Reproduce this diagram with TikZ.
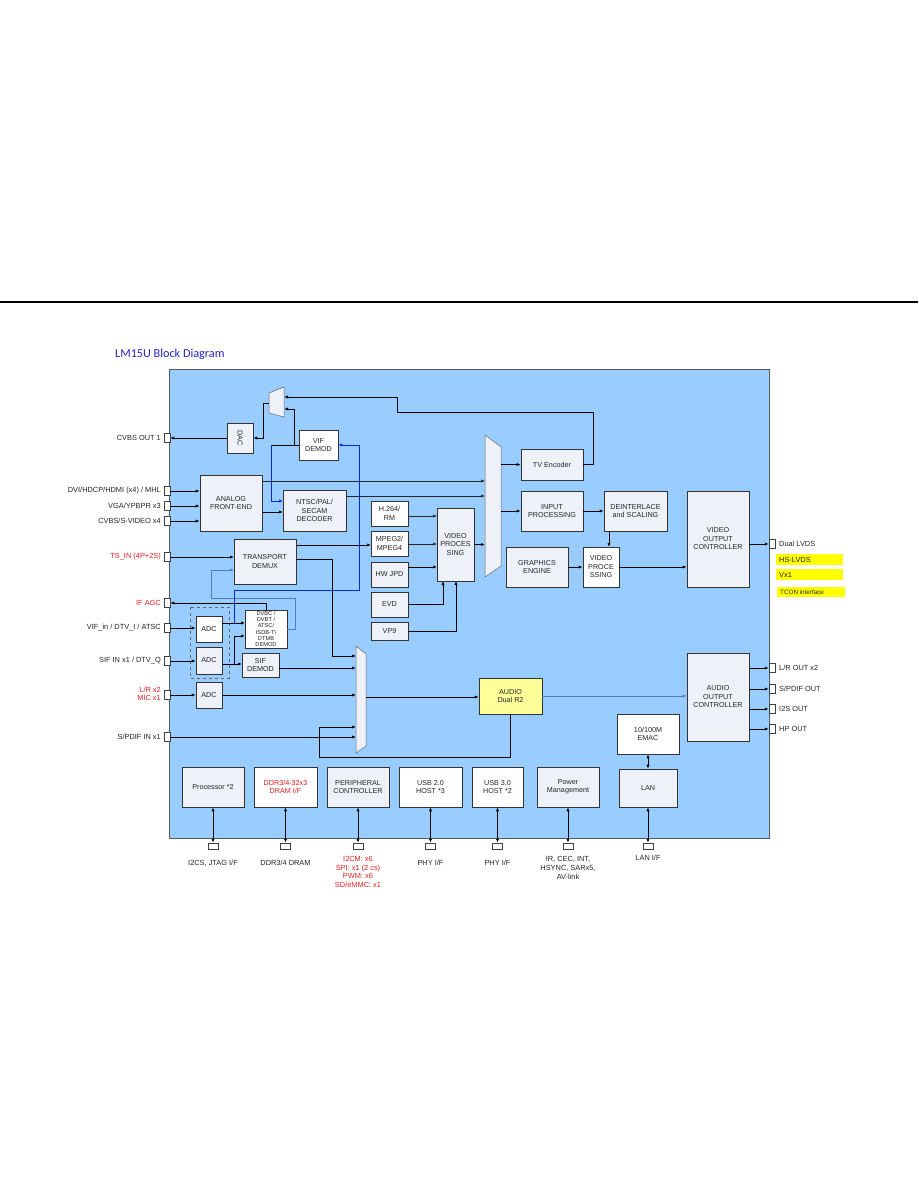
\documentclass[tikz,border=0pt]{standalone}
\usepackage{fontspec}
\setmainfont{Liberation Sans}
\newfontfamily\titlefont{Carlito}
\usetikzlibrary{arrows.meta}
\definecolor{bgblue}{HTML}{99CCFF}
\definecolor{boxfill}{HTML}{EEF1F8}
\definecolor{dblue}{HTML}{0A2AD0}
\definecolor{lblue}{HTML}{4A7CC8}
\definecolor{lblred}{HTML}{E02020}
\definecolor{hiyel}{HTML}{FFFF00}
\definecolor{audioyel}{HTML}{FFFF99}
\definecolor{titleblue}{HTML}{2424C0}
\newcommand\bx[7]{\node[#7, minimum width=#4pt, minimum height=#5pt] (#1) at (#2,#3) {#6};}
\newcommand\lport[2]{\node[port] (#1) at (167,#2) {};}
\newcommand\rport[2]{\node[port] (#1) at (772,#2) {};}
\newcommand\bport[2]{\node[bportst] (#1) at (#2,846) {};}
\begin{document}
\begin{tikzpicture}[x=1pt,y=-1pt,
  box/.style={draw=black!80, fill=boxfill, line width=0.6pt, font=\fontsize{7.2}{8.5}\selectfont, align=center, inner sep=1pt, text=black!85},
  wbox/.style={box, fill=white},
  lab/.style={font=\fontsize{7.4}{8.5}\selectfont, inner sep=0pt, text=black!85},
  rlab/.style={lab, text=lblred},
  port/.style={draw=black!75, fill=white, line width=0.5pt, minimum width=6pt, minimum height=9pt, inner sep=0pt},
  bportst/.style={draw=black!75, fill=white, line width=0.5pt, minimum width=10pt, minimum height=6pt, inner sep=0pt},
  ln/.style={line width=0.8pt, black},
  thin/.style={line width=0.6pt, black!85},
  arr/.style={ln, -{Latex[length=4pt,width=3.2pt]}},
  tarr/.style={thin, -{Latex[length=4pt,width=3.2pt]}},
  darr/.style={ln, {Latex[length=4pt,width=3.2pt]}-{Latex[length=4pt,width=3.2pt]}},
  mux/.style={draw=black!60, fill=boxfill, line width=0.5pt},
  hl/.style={fill=hiyel, inner sep=0pt, anchor=north west}
]
\useasboundingbox (0,0) rectangle (918,1188);
\fill[white] (0,0) rectangle (918,1188);
% top rule
\draw[line width=1.3pt] (0,302) -- (918,302);
% title
\node[anchor=base west, font=\titlefont\fontsize{12.2}{14}\selectfont, text=titleblue, inner sep=0pt] (title) at (115,357) {LM15U Block Diagram};
% main area
\node[draw=black!65, fill=bgblue, line width=0.6pt, minimum width=600pt, minimum height=469pt, inner sep=0pt, anchor=north west] (chip) at (169,369) {};

% highlight labels (right)
\node[hl, minimum width=67pt, minimum height=11pt] (hs) at (776,554) {};
\node[lab, anchor=west] at (779,559.5) {HS-LVDS};
\node[hl, minimum width=67pt, minimum height=11pt] (vx) at (776,569) {};
\node[lab, anchor=west] at (779,574.5) {Vx1};
\node[hl, minimum width=68pt, minimum height=10pt] (tcon) at (777,587) {};
\node[lab, anchor=west, font=\fontsize{6.3}{7}\selectfont] at (780,592) {TCON interface};

% muxes
\draw[mux] (269,393) -- (284,387) -- (284,417) -- (269,413) -- cycle;
\coordinate (mxa) at (276,402);
\draw[mux] (485,435) -- (501,447) -- (501,566) -- (485,577) -- cycle;
\coordinate (mxb) at (493,506);
\draw[mux] (356,646) -- (366,654) -- (366,746) -- (356,753) -- cycle;
\coordinate (mxc) at (361,700);

% dashed ADC group
\draw[dashed, draw=black!60, line width=0.5pt] (190,607) rectangle (229,678);

% boxes
\bx{dac}{240}{438}{26}{30}{}{box}
\node[font=\fontsize{7.2}{8}\selectfont, rotate=-90, text=black!85] at (dac.center) {DAC};
\bx{vif}{318.5}{445}{39}{30}{VIF\\DEMOD}{wbox}
\bx{afe}{231}{503}{62}{56}{ANALOG\\FRONT-END}{box}
\bx{ntsc}{314.5}{510.5}{63}{41}{NTSC/PAL/\\SECAM\\DECODER}{box}
\bx{tvenc}{552}{464.5}{62}{31}{TV Encoder}{box}
\bx{inproc}{552}{511}{62}{40}{INPUT\\PROCESSING}{box}
\bx{h264}{389.5}{513.5}{37}{25}{H.264/\\RM}{wbox}
\bx{mpeg}{389.5}{543.5}{37}{25}{MPEG2/\\MPEG4}{wbox}
\bx{hwjpd}{389.5}{574.5}{37}{25}{HW JPD}{box}
\bx{evd}{389.5}{604.5}{37}{25}{EVD}{box}
\bx{vp9}{389.5}{631}{37}{18}{VP9}{box}
\bx{vpa}{455.5}{544.5}{37}{73}{VIDEO\\PROCES\\SING}{box}
\bx{deint}{635.5}{511}{63}{40}{DEINTERLACE\\and SCALING}{box}
\bx{vpb}{601}{567}{36}{40}{VIDEO\\PROCE\\SSING}{wbox}
\bx{gfx}{537}{567}{62}{40}{GRAPHICS\\ENGINE}{box}
\bx{voc}{718}{539}{62}{96}{VIDEO\\OUTPUT\\CONTROLLER}{box}
\bx{td}{265}{561.5}{62}{45}{TRANSPORT\\DEMUX}{box}
\bx{adca}{209}{629}{26}{26}{ADC}{wbox}
\bx{adcb}{209}{660.5}{26}{27}{ADC}{box}
\bx{adcc}{209}{695}{26}{26}{ADC}{box}
\bx{dvb}{266}{629}{42}{38}{}{wbox}
\node[font=\fontsize{5.7}{6.3}\selectfont, align=center, text=black!85] at (dvb.center) {DVBC /\\DVBT /\\ATSC/\\ISDB-T\textbackslash\\DTMB\\DEMOD};
\bx{sif}{260.5}{665}{37}{24}{SIF\\DEMOD}{box}
\bx{audio}{510.5}{696}{63}{36}{AUDIO\\Dual R2}{box, fill=audioyel}
\bx{aoc}{718}{697}{62}{88}{AUDIO\\OUTPUT\\CONTROLLER}{box}
\bx{emac}{648}{734}{62}{40}{10/100M\\EMAC}{wbox}
\bx{lan}{648}{788}{58}{38}{LAN}{box}
\bx{proc}{213}{787}{62}{40}{Processor *2}{box}
\bx{ddr}{285.5}{787}{63}{40}{DDR3/4-32x3\\DRAM I/F}{wbox, text=lblred}
\bx{periph}{358}{787}{62}{40}{PERIPHERAL\\CONTROLLER}{box}
\bx{usba}{430.5}{787}{63}{40}{USB 2.0\\HOST *3}{wbox}
\bx{usbb}{497.5}{787}{51}{40}{USB 3.0\\HOST *2}{wbox}
\bx{power}{568}{787}{62}{40}{Power\\Management}{box}

% left ports and labels
\lport{pcvbsout}{438}
\lport{pdvi}{491}
\lport{pvga}{506}
\lport{pcvbs}{521}
\lport{pts}{557}
\lport{pagc}{603}
\lport{pvif}{628}
\lport{psif}{661}
\lport{plr}{695}
\lport{pspdif}{737}
\node[lab, anchor=east] at (161,438) {CVBS OUT 1};
\node[lab, anchor=east] at (161,491) {DVI/HDCP/HDMI (x4) / MHL};
\node[lab, anchor=east] at (161,506) {VGA/YPBPR x3};
\node[lab, anchor=east] at (161,521) {CVBS/S-VIDEO x4};
\node[rlab, anchor=east] at (161,557) {TS\_IN (4P+2S)};
\node[rlab, anchor=east] at (161,603) {IF AGC};
\node[lab, anchor=east] at (161,628) {VIF\_in / DTV\_I / ATSC};
\node[lab, anchor=east] at (161,661) {SIF IN x1 / DTV\_Q};
\node[rlab, anchor=east, align=right] at (161,694) {L/R x2\\MIC x1};
\node[lab, anchor=east] at (161,737) {S/PDIF IN x1};

% right ports and labels
\rport{plvds}{544}
\rport{plrout}{668}
\rport{pspdifout}{689}
\rport{pi2s}{709}
\rport{php}{729}
\node[lab, anchor=west] at (779,544) {Dual LVDS};
\node[lab, anchor=west] at (779,668) {L/R OUT x2};
\node[lab, anchor=west] at (779,689) {S/PDIF OUT};
\node[lab, anchor=west] at (779,709) {I2S OUT};
\node[lab, anchor=west] at (779,729) {HP OUT};

% bottom ports and labels
\bport{bproc}{213}
\bport{bddr}{285.5}
\bport{bperiph}{358}
\bport{busba}{430.5}
\bport{busbb}{497.5}
\bport{bpower}{568}
\bport{blan}{648}
\node[lab] at (213,863) {I2CS, JTAG I/F};
\node[lab] at (285.5,863) {DDR3/4 DRAM};
\node[rlab, align=center, font=\fontsize{7.4}{8.7}\selectfont] at (358,872) {I2CM: x6\\SPI: x1 (2 cs)\\PWM: x6\\SD/eMMC: x1};
\node[lab] at (430.5,863) {PHY I/F};
\node[lab] at (497.5,863) {PHY I/F};
\node[lab, align=center, font=\fontsize{7.4}{8.7}\selectfont] at (568,868) {IR, CEC, INT,\\HSYNC, SARx5,\\AV-link};
\node[lab] at (648,858) {LAN I/F};

% ===== connectors =====
% TV encoder loop back to top mux
\draw[arr] (tvenc.east) -- (593,464.5) -- (593,412) -- (397,412) -- (397,397) -- (284,397);
% VIF demod to top mux and to decoder
\draw[arr] (vif.west) -- (294,445) -- (294,409) -- (284,409);
\draw[ln] (294,445) -- (271,445);
\draw[line width=0.8pt, dblue, -{Latex[length=4pt,width=3.2pt]}] (271,445) -- (271,501) -- (283,501);
% top mux to DAC, DAC to CVBS out
\draw[arr] (269,403) -- (263,403) -- (263,438) -- (dac.east);
\draw[arr] (dac.west) -- (pcvbsout.east);
% analog inputs
\draw[arr] (pdvi.east) -- (afe.west |- pdvi.east);
\draw[arr] (pvga.east) -- (afe.west |- pvga.east);
\draw[arr] (pcvbs.east) -- (afe.west |- pcvbs.east);
\draw[arr] (262,512) -- (283,512);
\draw[tarr] (262,481) -- (485,481);
\draw[tarr] (346,496) -- (485,496);
% center mux outputs
\draw[arr] (501,464.5) -- (tvenc.west);
\draw[arr] (501,511) -- (inproc.west);
\draw[arr] (474,544.5) -- (485,544.5);
% decoders to video processing
\draw[tarr] (408,516) -- (437,516);
\draw[tarr] (408,544) -- (437,544);
\draw[arr] (408,567) -- (437,567);
\draw[arr] (evd.east) -- (443,604.5) -- (443,581);
\draw[arr] (vp9.east) -- (456,631) -- (456,581);
% video pipeline
\draw[arr] (inproc.east) -- (deint.west);
\draw[arr] (609,531) -- (609,547);
\draw[arr] (gfx.east) -- (vpb.west);
\draw[arr] (vpb.east) -- (voc.west |- vpb.east);
\draw[arr] (749,544) -- (plvds.west);
% transport
\draw[arr] (pts.east) -- (234,557);
\draw[arr] (296,545) -- (371,545);
\draw[arr] (296,559) -- (332,559) -- (332,656) -- (356,656);
\draw[line width=0.8pt, lblue, -{Latex[length=4pt,width=3.2pt]}] (dvb.east) -- (295,629) -- (295,598) -- (211,598) -- (211,570) -- (234,570);
\draw[line width=0.8pt, dblue, -{Latex[length=4pt,width=3.2pt]}] (234,623) -- (234,590) -- (359,590) -- (359,445) -- (vif.east);
% IF AGC
\draw[arr] (266,610) -- (266,603) -- (pagc.east);
% ADC inputs
\draw[arr] (pvif.east) -- (adca.west |- pvif.east);
\draw[arr] (psif.east) -- (adcb.west |- psif.east);
\draw[arr] (plr.east) -- (adcc.west |- plr.east);
% ADC outputs
\draw[arr] (222,623) -- (245,623);
\draw[arr] (222,664) -- (242,664);
\draw[arr] (234,664) -- (234,636) -- (245,636);
\draw[arr] (279,668) -- (356,668);
\draw[arr] (adcc.east) -- (356,695);
\draw[arr] (pspdif.east) -- (356,737);
\draw[arr] (audio.south) -- (510.5,757) -- (319,757) -- (319,727) -- (356,727);
\draw[arr] (366,697) -- (audio.west |- 366,697);
\draw[line width=0.8pt, lblue, -{Latex[length=4pt,width=3.2pt]}] (audio.east) -- (aoc.west |- audio.east);
% audio outputs
\draw[arr] (749,668) -- (plrout.west);
\draw[arr] (749,689) -- (pspdifout.west);
\draw[arr] (749,709) -- (pi2s.west);
\draw[arr] (749,729) -- (php.west);
% EMAC/LAN
\draw[darr] (emac.south) -- (lan.north);
% bottom
\draw[darr] (proc.south) -- (bproc.north);
\draw[darr] (ddr.south) -- (bddr.north);
\draw[darr] (periph.south) -- (bperiph.north);
\draw[darr] (usba.south) -- (busba.north);
\draw[darr] (usbb.south) -- (busbb.north);
\draw[darr] (power.south) -- (bpower.north);
\draw[darr] (lan.south) -- (blan.north);
\end{tikzpicture}
\end{document}
